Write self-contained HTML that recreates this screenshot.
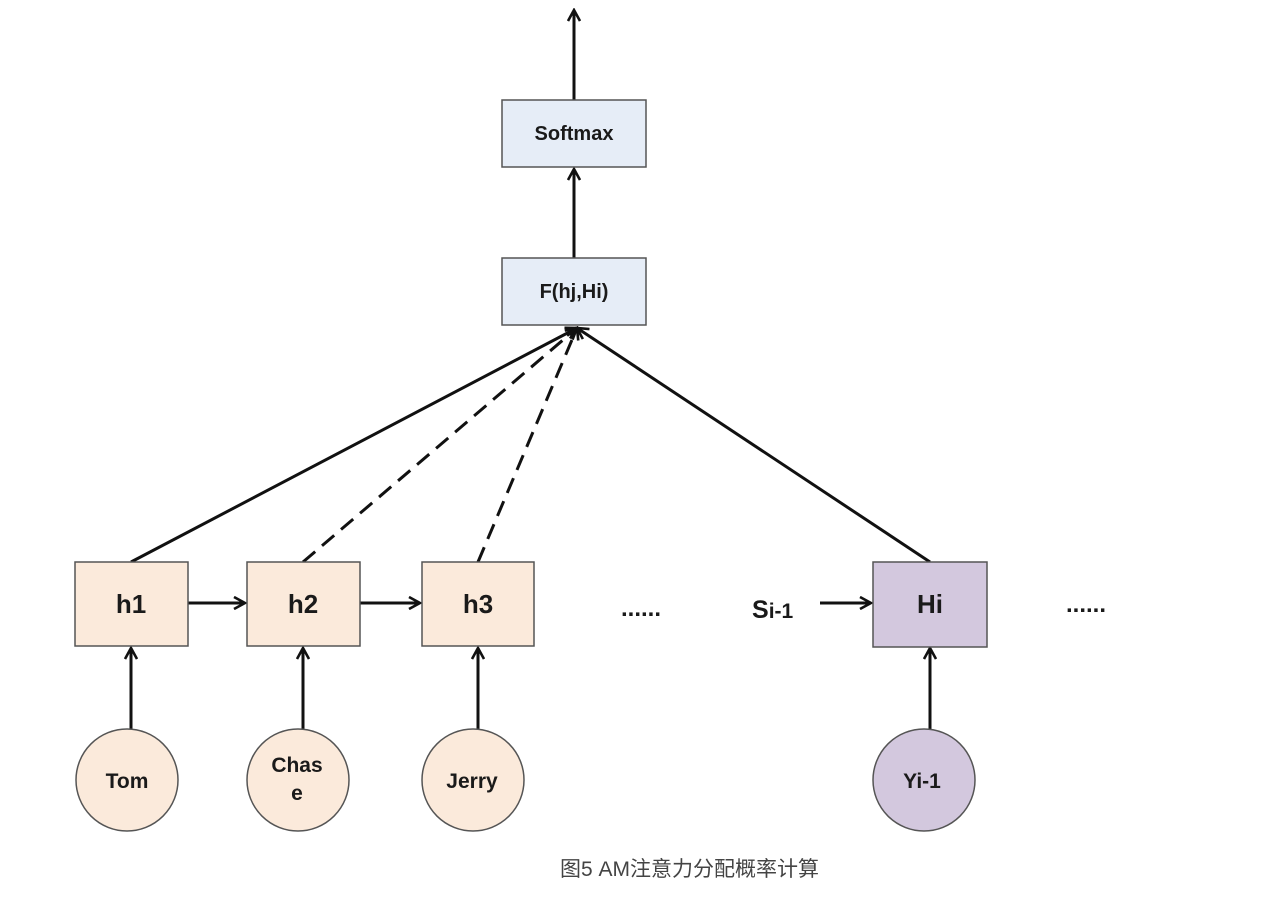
<!DOCTYPE html>
<html><head><meta charset="utf-8"><style>
html,body{margin:0;padding:0;background:#fff;width:1272px;height:898px;overflow:hidden}
svg text{font-family:"Liberation Sans","DejaVu Sans",sans-serif;font-weight:bold;fill:#1a1a1a}
</style></head><body>
<svg width="1272" height="898" viewBox="0 0 1272 898" xmlns="http://www.w3.org/2000/svg">
<defs>
<marker id="a" viewBox="0 0 14 14" refX="12" refY="7" markerWidth="14" markerHeight="14" markerUnits="userSpaceOnUse" orient="auto">
<path d="M1,1 L12,7 L1,13" fill="none" stroke="#111" stroke-width="2.6"/>
</marker>
</defs>
<g stroke="#111" stroke-width="3" fill="none">
<line x1="574" y1="100" x2="574" y2="10" marker-end="url(#a)"/>
<line x1="574" y1="258" x2="574" y2="169" marker-end="url(#a)"/>
<line x1="131" y1="562" x2="577" y2="328" marker-end="url(#a)"/>
<line x1="303" y1="562" x2="577" y2="328" stroke-dasharray="16,9" marker-end="url(#a)"/>
<line x1="478" y1="562" x2="577" y2="328" stroke-dasharray="16,9" marker-end="url(#a)"/>
<line x1="930" y1="562" x2="577" y2="328" marker-end="url(#a)"/>
<line x1="188" y1="603" x2="245" y2="603" marker-end="url(#a)"/>
<line x1="360" y1="603" x2="420" y2="603" marker-end="url(#a)"/>
<line x1="820" y1="603" x2="871" y2="603" marker-end="url(#a)"/>
<line x1="131" y1="729" x2="131" y2="648" marker-end="url(#a)"/>
<line x1="303" y1="729" x2="303" y2="648" marker-end="url(#a)"/>
<line x1="478" y1="729" x2="478" y2="648" marker-end="url(#a)"/>
<line x1="930" y1="729" x2="930" y2="648" marker-end="url(#a)"/>
</g>
<g stroke="#555" stroke-width="1.5">
<rect x="502" y="100" width="144" height="67" fill="#e6edf7"/>
<rect x="502" y="258" width="144" height="67" fill="#e6edf7"/>
<rect x="75" y="562" width="113" height="84" fill="#fbeadb"/>
<rect x="247" y="562" width="113" height="84" fill="#fbeadb"/>
<rect x="422" y="562" width="112" height="84" fill="#fbeadb"/>
<rect x="873" y="562" width="114" height="85" fill="#d3c8de"/>
<circle cx="127" cy="780" r="51" fill="#fbeadb"/>
<circle cx="298" cy="780" r="51" fill="#fbeadb"/>
<circle cx="473" cy="780" r="51" fill="#fbeadb"/>
<circle cx="924" cy="780" r="51" fill="#d3c8de"/>
</g>
<g text-anchor="middle">
<text x="574" y="140" font-size="20">Softmax</text>
<text x="574" y="298" font-size="20">F(hj,Hi)</text>
<text x="131" y="613" font-size="26">h1</text>
<text x="303" y="613" font-size="26">h2</text>
<text x="478" y="613" font-size="26">h3</text>
<text x="930" y="613" font-size="26">Hi</text>
<text x="127" y="788" font-size="21">Tom</text>
<text x="297" y="772" font-size="21">Chas</text>
<text x="297" y="800" font-size="21">e</text>
<text x="472" y="788" font-size="21">Jerry</text>
<text x="922" y="788" font-size="21">Yi-1</text>
<text x="641" y="616" font-size="24">......</text>
<text x="1086" y="612" font-size="24">......</text>
</g>
<text x="752" y="618" font-size="25">S<tspan font-size="21">i-1</tspan></text>
<text x="560" y="876" font-size="21" style="font-weight:normal;fill:#444;font-family:'Liberation Sans','Noto Sans CJK SC',sans-serif">图5  AM注意力分配概率计算</text>
</svg>
</body></html>
